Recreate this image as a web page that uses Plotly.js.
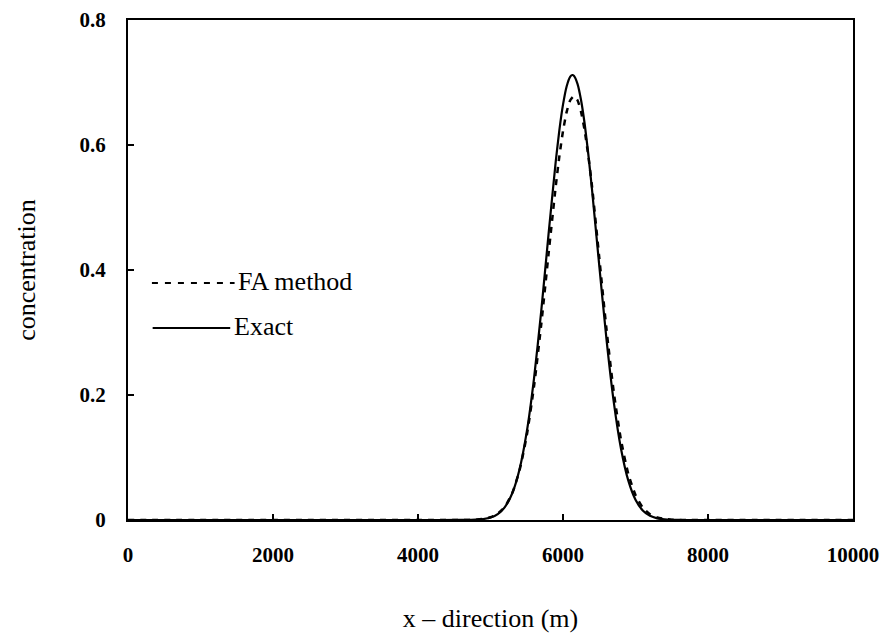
<!DOCTYPE html>
<html>
<head>
<meta charset="utf-8">
<script src="https://cdn.plot.ly/plotly-3.0.1.min.js"></script>
<style>html,body{margin:0;padding:0;background:#fff;}#chart{width:887px;height:644px;}</style>
</head>
<body>
<div id="chart"></div>
<script>
// Data
const xExact = [0, 2000, 4000, 4600, 4700, 4800, 4900, 5000, 5100, 5200, 5300, 5400, 5500, 5600, 5700, 5800, 5900, 5950, 6000, 6050, 6100, 6130, 6150, 6200, 6250, 6300, 6350, 6400, 6500, 6600, 6700, 6800, 6900, 7000, 7100, 7200, 7300, 7400, 7500, 7600, 7700, 8000, 10000];
const yExact = [0, 0, 0, 0.00005, 0.00017, 0.0005, 0.0015, 0.0039, 0.0094, 0.0209, 0.0428, 0.0809, 0.1409, 0.2262, 0.3347, 0.4565, 0.5737, 0.6238, 0.6645, 0.6937, 0.7094, 0.712, 0.7108, 0.6979, 0.6713, 0.6328, 0.5844, 0.5288, 0.4072, 0.2890, 0.1890, 0.1140, 0.0633, 0.0324, 0.0153, 0.0067, 0.0027, 0.0010, 0.0003, 0.0001, 0, 0, 0];
const xFA = [0, 2000, 4000, 4600, 4700, 4800, 4900, 5000, 5100, 5200, 5300, 5400, 5500, 5600, 5700, 5800, 5900, 5950, 6000, 6050, 6100, 6150, 6200, 6250, 6300, 6350, 6400, 6500, 6600, 6700, 6800, 6900, 7000, 7100, 7200, 7300, 7400, 7500, 7600, 7700, 8000, 10000];
const yFA = [0, 0, 0, 0.0001, 0.0002, 0.0006, 0.0017, 0.0044, 0.0101, 0.0217, 0.0431, 0.0793, 0.1352, 0.2138, 0.3131, 0.4249, 0.5341, 0.5821, 0.6222, 0.6526, 0.6716, 0.678, 0.6716, 0.6526, 0.6222, 0.5821, 0.5341, 0.4200, 0.3050, 0.2050, 0.1280, 0.0740, 0.0400, 0.0200, 0.0093, 0.0040, 0.0016, 0.0006, 0.0002, 0.0001, 0, 0];
const seriesNames = ["FA method", "Exact"];
const xTicks = [0, 2000, 4000, 6000, 8000, 10000];
const yTicks = [0, 0.2, 0.4, 0.6, 0.8];
const xTitle = "x – direction (m)";
const yTitle = "concentration";

const serif = "Liberation Serif";

const traces = [
  {x: xFA, y: yFA, name: seriesNames[0], mode: 'lines', line: {color: '#000', width: 2.5, dash: '6px,6px', shape: 'spline', smoothing: 0.6}, showlegend: false},
  {x: xExact, y: yExact, name: seriesNames[1], mode: 'lines', line: {color: '#000', width: 2.2, shape: 'spline', smoothing: 0.6}, showlegend: false}
];

const layout = {
  width: 887, height: 644,
  margin: {l: 128, r: 34, t: 20, b: 124},
  paper_bgcolor: '#fff', plot_bgcolor: '#fff',
  font: {family: serif, color: '#000', size: 20},
  xaxis: {
    range: [0, 10000], tickvals: xTicks, ticktext: xTicks.map(String),
    showgrid: false, zeroline: false, showline: true, mirror: true,
    linecolor: '#000', linewidth: 2, ticks: 'inside', ticklen: 6, tickwidth: 1.5, tickcolor: '#000',
    tickfont: {family: serif, size: 21, weight: 'bold'}, ticklabelstandoff: 15,
    title: {text: xTitle, font: {family: serif, size: 26}, standoff: 43}
  },
  yaxis: {
    range: [0, 0.8], tickvals: yTicks, ticktext: yTicks.map(v => v === 0 ? '0' : v.toFixed(1)),
    showgrid: false, zeroline: false, showline: true, mirror: true,
    linecolor: '#000', linewidth: 2, ticks: 'inside', ticklen: 6, tickwidth: 1.5, tickcolor: '#000',
    tickfont: {family: serif, size: 21, weight: 'bold'}, ticklabelstandoff: 16,
    title: {text: yTitle, font: {family: serif, size: 26}, standoff: 36}
  },
  shapes: [
    {type: 'line', xref: 'paper', yref: 'paper', x0: 0.033, x1: 0.147, y0: 0.474, y1: 0.474, line: {color: '#000', width: 2, dash: '6px,7px'}},
    {type: 'line', xref: 'paper', yref: 'paper', x0: 0.034, x1: 0.141, y0: 0.384, y1: 0.384, line: {color: '#000', width: 2}}
  ],
  annotations: [
    {xref: 'paper', yref: 'paper', x: 0.149, y: 0.478, xanchor: 'left', yanchor: 'middle', text: seriesNames[0], showarrow: false, font: {family: serif, size: 26}},
    {xref: 'paper', yref: 'paper', x: 0.143, y: 0.388, xanchor: 'left', yanchor: 'middle', text: seriesNames[1], showarrow: false, font: {family: serif, size: 26}}
  ]
};

Plotly.newPlot('chart', traces, layout, {displayModeBar: false, staticPlot: true});
</script>
</body>
</html>
